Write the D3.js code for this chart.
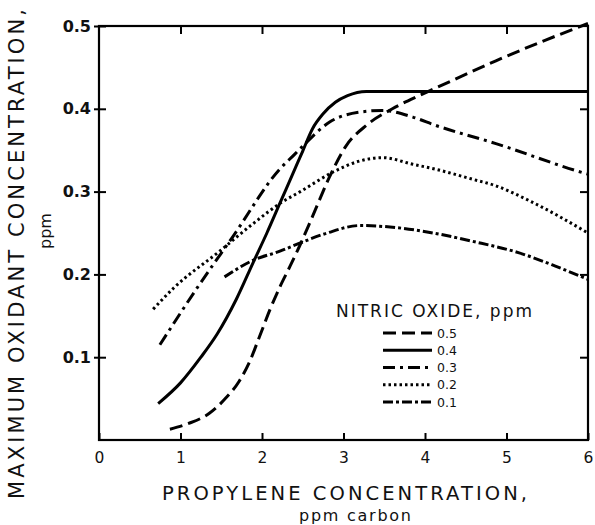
<!DOCTYPE html>
<html><head><meta charset="utf-8">
<script src="https://cdn.jsdelivr.net/npm/d3@7"></script>
<style>body{margin:0;background:#fff}svg{display:block}</style>
</head><body>
<svg id="c" width="595" height="525"></svg>
<script>
const xTicks = [0,1,2,3,4,5,6];
const yTicks = [0.1,0.2,0.3,0.4,0.5];
const seriesNames = ["0.5","0.4","0.3","0.2","0.1"];
const no05 = [[0.87,0.013],[1.1,0.02],[1.35,0.032],[1.55,0.05],[1.72,0.071],[1.85,0.095],[1.97,0.125],[2.1,0.158],[2.22,0.185],[2.34,0.209],[2.46,0.234],[2.62,0.27],[2.83,0.318],[3.03,0.355],[3.28,0.38],[3.6,0.40],[3.93,0.416],[4.13,0.425],[4.87,0.458],[5.48,0.483],[6.0,0.503]];
const no04 = [[0.726,0.044],[1.0,0.069],[1.25,0.1],[1.45,0.128],[1.685,0.17],[1.89,0.214],[2.06,0.25],[2.22,0.286],[2.38,0.322],[2.5,0.349],[2.62,0.376],[2.75,0.394],[2.9,0.408],[3.05,0.416],[3.28,0.421],[4.5,0.421],[6.0,0.421]];
const no03 = [[0.747,0.115],[1.22,0.186],[1.645,0.246],[2.216,0.327],[2.40,0.345],[2.50,0.355],[2.83,0.384],[3.2,0.396],[3.48,0.398],[3.85,0.39],[4.13,0.38],[4.87,0.358],[5.93,0.323],[6.0,0.321]];
const no02 = [[0.665,0.158],[0.91,0.183],[1.48,0.228],[1.9,0.262],[2.24,0.287],[2.47,0.30],[2.88,0.324],[3.2,0.337],[3.48,0.341],[3.85,0.333],[4.13,0.327],[4.58,0.315],[4.87,0.307],[5.28,0.289],[6.0,0.25]];
const no01 = [[1.54,0.197],[1.89,0.217],[2.22,0.228],[2.47,0.238],[2.8,0.25],[3.2,0.259],[3.64,0.2566],[4.1,0.25],[4.58,0.240],[5.155,0.226],[5.60,0.21],[6.0,0.194]];

const series = [no05,no04,no03,no02,no01];
const dashes = ["13,6", null, "12,5,3,5", "2.5,3", "10,3,3,3"];

const svg = d3.select("#c");
const x = d3.scaleLinear().domain([0,6]).range([99,588]);
const y = d3.scaleLinear().domain([0,0.5]).range([440,26]);
const FONT = "'DejaVu Sans', sans-serif";

// axes
const gb = svg.append("g").attr("transform","translate(0,440)")
  .call(d3.axisBottom(x).tickValues(xTicks).tickSize(-7).tickPadding(12).tickFormat(d3.format("d")));
const gl = svg.append("g").attr("transform","translate(99,0)")
  .call(d3.axisLeft(y).tickValues(yTicks).tickSize(-7).tickPadding(8).tickFormat(d3.format(".1f")));
const gt = svg.append("g").attr("transform","translate(0,26)")
  .call(d3.axisTop(x).tickValues([1,2,3,4,5]).tickSize(-8).tickFormat(""));
const gr = svg.append("g").attr("transform","translate(588,0)")
  .call(d3.axisRight(y).tickValues([0.1,0.2,0.3,0.4]).tickSize(-8).tickFormat(""));
[gb,gl,gt,gr].forEach(g=>{
  g.select(".domain").remove();
  g.selectAll("line").attr("stroke","#000").attr("stroke-width",2);
});
gl.selectAll(".tick line").attr("x1",-5).attr("x2",7);
gb.selectAll(".tick text").attr("font-family",FONT).attr("font-size",15.5).attr("fill","#111");
gl.selectAll(".tick text").attr("font-family",FONT).attr("font-size",16).attr("font-weight","bold").attr("fill","#111");

svg.append("rect").attr("x",x(0)).attr("y",y(0.5)).attr("width",x(6)-x(0)).attr("height",y(0)-y(0.5))
  .attr("fill","none").attr("stroke","#000").attr("stroke-width",2.2);

// curves
const line = d3.line().x(d=>x(d[0])).y(d=>y(d[1])).curve(d3.curveMonotoneX);
series.forEach((s,i)=>{
  svg.append("path").attr("d",line(s)).attr("fill","none").attr("stroke","#000")
    .attr("stroke-width",3).attr("stroke-dasharray",dashes[i]);
});

// titles
svg.append("text").attr("transform","translate(23.5,254) rotate(-90)").attr("text-anchor","middle")
  .attr("font-family",FONT).attr("font-size",21).attr("fill","#111")
  .attr("textLength",490).attr("lengthAdjust","spacing").text("MAXIMUM OXIDANT CONCENTRATION,");
svg.append("text").attr("transform","translate(51,231) rotate(-90)").attr("text-anchor","middle")
  .attr("font-family",FONT).attr("font-size",16).attr("fill","#111").text("ppm");
svg.append("text").attr("x",344.5).attr("y",500).attr("text-anchor","middle")
  .attr("font-family",FONT).attr("font-size",19.5).attr("fill","#111")
  .attr("textLength",365).attr("lengthAdjust","spacing").text("PROPYLENE CONCENTRATION,");
svg.append("text").attr("x",355).attr("y",521).attr("text-anchor","middle")
  .attr("font-family",FONT).attr("font-size",16).attr("fill","#111")
  .attr("textLength",112).attr("lengthAdjust","spacing").text("ppm carbon");

// legend
svg.append("text").attr("x",336).attr("y",317)
  .attr("font-family",FONT).attr("font-size",17).attr("fill","#111")
  .attr("textLength",196).attr("lengthAdjust","spacing").text("NITRIC OXIDE, ppm");
const rowY = d3.scalePoint().domain(seriesNames).range([333,402]);
seriesNames.forEach((n,i)=>{
  const yy = rowY(n);
  svg.append("line").attr("x1",383).attr("x2",432).attr("y1",yy).attr("y2",yy)
    .attr("stroke","#000").attr("stroke-width",3).attr("stroke-dasharray",dashes[i]);
  svg.append("text").attr("x",437).attr("y",yy+4.5).attr("font-family",FONT).attr("font-size",12.5)
    .attr("fill","#111").text(n);
});
</script>
</body></html>
